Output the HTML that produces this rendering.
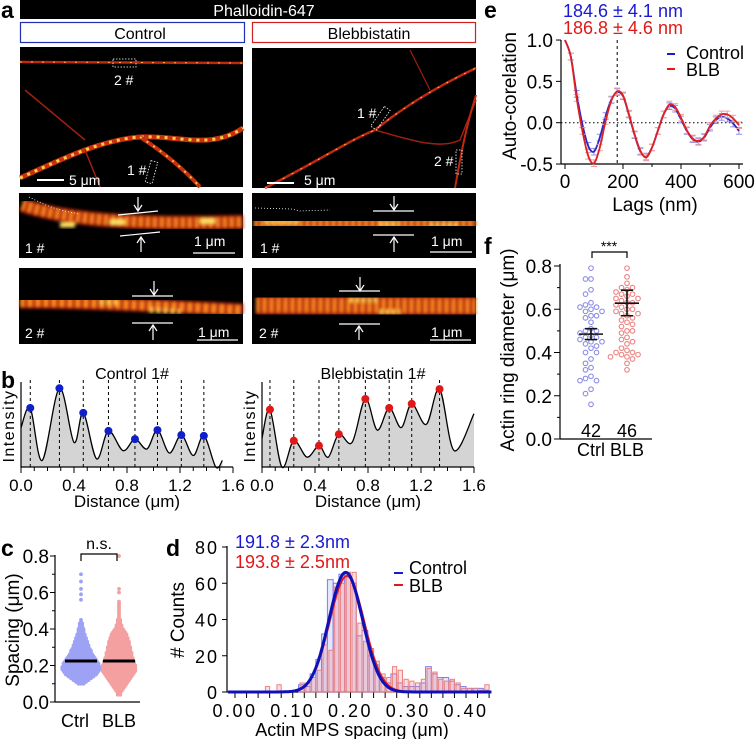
<!DOCTYPE html>
<html><head><meta charset="utf-8">
<style>
html,body{margin:0;padding:0;background:#fff;}
svg{display:block;font-family:"Liberation Sans",Arial,sans-serif;}
</style></head>
<body>
<svg id="fig" width="755" height="739" viewBox="0 0 755 739" xmlns="http://www.w3.org/2000/svg">
<defs>
  <filter id="blur2" x="-5%" y="-20%" width="110%" height="140%"><feGaussianBlur stdDeviation="1.6"/></filter>
</defs>

<g>
  <text x="1" y="18" font-size="23" font-weight="bold">a</text>
  <rect x="20" y="0" width="456" height="19" fill="#000"/>
  <text x="264" y="16" font-size="16" fill="#fff" text-anchor="middle">Phalloidin-647</text>
  <rect x="20.5" y="22.5" width="224" height="20" fill="#fff" stroke="#2030b0" stroke-width="1.2"/>
  <text x="140" y="39" font-size="16" text-anchor="middle">Control</text>
  <rect x="252.5" y="22.5" width="223" height="20" fill="#fff" stroke="#d02020" stroke-width="1.2"/>
  <text x="369" y="39" font-size="16" text-anchor="middle">Blebbistatin</text>

  <g>
    <rect x="20" y="47" width="223" height="140" fill="#000"/>
    <path d="M20 62 L243 63" stroke="#c02810" stroke-width="2.5" fill="none"/>
    <path d="M20 62 L243 63" stroke="#ffb030" stroke-width="1" stroke-dasharray="2 9" fill="none"/>
    <path d="M25 90 L85 140" stroke="#a02010" stroke-width="1.5" fill="none"/>
    <path d="M20 178 C60 160 100 140 140 137 C180 135 210 150 243 128" stroke="#c83010" stroke-width="5" fill="none"/>
    <path d="M20 178 C60 160 100 140 140 137 C180 135 210 150 243 128" stroke="#ffd040" stroke-width="3" stroke-dasharray="3 5" fill="none"/>
    <path d="M140 137 C160 150 180 165 200 187" stroke="#c83010" stroke-width="4" fill="none"/>
    <path d="M140 137 C160 150 180 165 200 187" stroke="#ffc040" stroke-width="2" stroke-dasharray="2 6" fill="none"/>
    <path d="M85 150 L100 187" stroke="#a02010" stroke-width="1.5" fill="none"/>
    <rect x="113" y="59" width="23" height="8" fill="none" stroke="#fff" stroke-dasharray="1.5 1.5" stroke-width="0.8"/>
    <text x="114" y="85" font-size="14" fill="#fff">2 #</text>
    <rect x="148" y="161" width="7" height="22" fill="none" stroke="#fff" stroke-dasharray="1.5 1.5" stroke-width="0.8" transform="rotate(15 151 172)"/>
    <text x="127" y="175" font-size="14" fill="#fff">1 #</text>
    <line x1="37" y1="180" x2="64" y2="180" stroke="#fff" stroke-width="2"/>
    <text x="69" y="185" font-size="14" fill="#fff">5 μm</text>
  </g>
  <g>
    <rect x="252" y="48" width="224" height="140" fill="#000"/>
    <path d="M265 188 C320 160 350 140 375 130 C400 110 430 90 476 68" stroke="#c02810" stroke-width="2.5" fill="none"/>
    <path d="M265 188 C320 160 350 140 375 130 C400 110 430 90 476 68" stroke="#ffb030" stroke-width="1" stroke-dasharray="2 8" fill="none"/>
    <path d="M375 130 C410 140 440 150 460 140 L476 100" stroke="#a02010" stroke-width="1.5" fill="none"/>
    <path d="M476 95 C465 130 460 160 455 188" stroke="#c02810" stroke-width="2" fill="none"/>
    <path d="M410 50 L430 90" stroke="#a02010" stroke-width="1.2" fill="none"/>
    <rect x="377" y="106" width="7" height="24" fill="none" stroke="#fff" stroke-dasharray="1.5 1.5" stroke-width="0.8" transform="rotate(35 380 118)"/>
    <text x="357" y="118" font-size="14" fill="#fff">1 #</text>
    <rect x="456" y="150" width="6" height="24" fill="none" stroke="#fff" stroke-dasharray="1.5 1.5" stroke-width="0.8"/>
    <text x="434" y="166" font-size="14" fill="#fff">2 #</text>
    <line x1="267" y1="183" x2="294" y2="183" stroke="#fff" stroke-width="2"/>
    <text x="304" y="185" font-size="14" fill="#fff">5 μm</text>
  </g>
  <g>
    <rect x="19" y="193" width="224" height="65" fill="#000"/>
    <g filter="url(#blur2)">
      <path d="M22 205 C60 218 120 225 243 222" stroke="#b82008" stroke-width="14" fill="none"/>
      <path d="M22 205 C60 218 120 225 243 222" stroke="#ff9020" stroke-width="10" stroke-dasharray="3 4" fill="none"/>
      <path d="M60 225 L75 225 M110 222 L125 222 M200 221 L215 221" stroke="#ffe060" stroke-width="5"/>
    </g>
    <path d="M29 197 C45 205 55 210 80 214" stroke="#fff" stroke-dasharray="1 2" fill="none" stroke-width="0.8"/>
    <line x1="118" y1="215" x2="158" y2="211" stroke="#fff" stroke-width="1.2"/>
    <line x1="120" y1="236" x2="160" y2="232" stroke="#fff" stroke-width="1.2"/>
    <path d="M138 197 L138 210 M134 205 L138 211 L142 205" stroke="#fff" fill="none" stroke-width="1.2"/>
    <path d="M141 252 L141 238 M137 243 L141 237 L145 243" stroke="#fff" fill="none" stroke-width="1.2"/>
    <text x="25" y="253" font-size="14" fill="#fff">1 #</text>
    <text x="194" y="246" font-size="14" fill="#fff">1 μm</text>
    <line x1="193" y1="253" x2="235" y2="253" stroke="#fff" stroke-width="1.2"/>
  </g>
  <g>
    <rect x="252" y="193" width="224" height="65" fill="#000"/>
    <g filter="url(#blur2)">
      <path d="M254 222 L476 224" stroke="#b82008" stroke-width="16" fill="none"/>
      <path d="M254 222 L476 224" stroke="#ff9020" stroke-width="11" stroke-dasharray="3 3.5" fill="none"/>
      <path d="M265 222 L300 222 M380 224 L400 224 M430 225 L460 225" stroke="#ffd050" stroke-width="5" stroke-dasharray="3 3"/>
    </g>
    <path d="M255 208 L292 209 L300 211 L330 210" stroke="#fff" stroke-dasharray="1 2" fill="none" stroke-width="0.8"/>
    <line x1="373" y1="211" x2="414" y2="211" stroke="#fff" stroke-width="1.2"/>
    <line x1="373" y1="235" x2="414" y2="235" stroke="#fff" stroke-width="1.2"/>
    <path d="M394 196 L394 209 M390 204 L394 210 L398 204" stroke="#fff" fill="none" stroke-width="1.2"/>
    <path d="M394 252 L394 238 M390 243 L394 237 L398 243" stroke="#fff" fill="none" stroke-width="1.2"/>
    <text x="260" y="253" font-size="14" fill="#fff">1 #</text>
    <text x="431" y="246" font-size="14" fill="#fff">1 μm</text>
    <line x1="430" y1="252" x2="472" y2="252" stroke="#fff" stroke-width="1.2"/>
  </g>
  <g>
    <rect x="19" y="268" width="224" height="76" fill="#000"/>
    <g filter="url(#blur2)">
      <path d="M20 302 C80 302 140 305 243 310" stroke="#b82008" stroke-width="13" fill="none"/>
      <path d="M20 302 C80 302 140 305 243 310" stroke="#ff9020" stroke-width="9" stroke-dasharray="4 4" fill="none"/>
      <path d="M150 310 L180 312 M100 302 L120 302" stroke="#ffd050" stroke-width="6" stroke-dasharray="3 4"/>
    </g>
    <line x1="132" y1="296" x2="173" y2="296" stroke="#fff" stroke-width="1.2"/>
    <line x1="132" y1="323" x2="173" y2="323" stroke="#fff" stroke-width="1.2"/>
    <path d="M154 281 L154 294 M150 289 L154 295 L158 289" stroke="#fff" fill="none" stroke-width="1.2"/>
    <path d="M153 340 L153 326 M149 331 L153 325 L157 331" stroke="#fff" fill="none" stroke-width="1.2"/>
    <text x="25" y="338" font-size="14" fill="#fff">2 #</text>
    <text x="198" y="337" font-size="14" fill="#fff">1 μm</text>
    <line x1="197" y1="340" x2="238" y2="340" stroke="#fff" stroke-width="1.2"/>
  </g>
  <g>
    <rect x="252" y="268" width="224" height="76" fill="#000"/>
    <g filter="url(#blur2)">
      <path d="M256 305 L476 306" stroke="#b82008" stroke-width="20" fill="none"/>
      <path d="M256 305 L476 306" stroke="#ff9020" stroke-width="14" stroke-dasharray="3 4" fill="none"/>
      <path d="M350 300 L380 300 M380 312 L400 312" stroke="#ffd050" stroke-width="5" stroke-dasharray="3 3"/>
    </g>
    <line x1="339" y1="291" x2="380" y2="291" stroke="#fff" stroke-width="1.2"/>
    <line x1="339" y1="324" x2="380" y2="324" stroke="#fff" stroke-width="1.2"/>
    <path d="M360 277 L360 290 M356 285 L360 291 L364 285" stroke="#fff" fill="none" stroke-width="1.2"/>
    <path d="M359 340 L359 327 M355 332 L359 326 L363 332" stroke="#fff" fill="none" stroke-width="1.2"/>
    <text x="259" y="338" font-size="14" fill="#fff">2 #</text>
    <text x="431" y="337" font-size="14" fill="#fff">1 μm</text>
    <line x1="430" y1="340" x2="471" y2="340" stroke="#fff" stroke-width="1.2"/>
  </g>
</g>

<g id="pb">
  <text x="1" y="388" font-size="23" font-weight="bold">b</text>
</g>
<g id="pc">
  <text x="1" y="556" font-size="23" font-weight="bold">c</text>
</g>
<g id="pd">
  <text x="166" y="556" font-size="23" font-weight="bold">d</text>
</g>
<g id="pe">
  <text x="484" y="18" font-size="23" font-weight="bold">e</text>
</g>
<g id="pf">
  <text x="484" y="254" font-size="23" font-weight="bold">f</text>
</g>
</svg>

<script>
// ---------- data ----------
const ctrlProfileD = [0,0.07,0.16,0.29,0.40,0.47,0.57,0.66,0.77,0.86,0.95,1.03,1.12,1.21,1.30,1.38,1.47,1.52];
const ctrlProfileI = [0.48,0.72,0.08,0.96,0.30,0.66,0.10,0.44,0.20,0.34,0.22,0.45,0.17,0.39,0.14,0.38,0.0,0.08];
const ctrlPeaks = [0.07,0.29,0.47,0.66,0.86,1.03,1.21,1.38];
const ctrlPeakI = [0.72,0.96,0.66,0.44,0.34,0.45,0.39,0.38];
const blbProfileD = [0,0.06,0.15,0.24,0.34,0.43,0.50,0.58,0.68,0.78,0.87,0.96,1.05,1.13,1.24,1.34,1.45,1.6];
const blbProfileI = [0.35,0.70,0.0,0.32,0.12,0.26,0.12,0.40,0.30,0.83,0.45,0.72,0.48,0.77,0.52,0.95,0.20,0.65];
const blbPeaks = [0.06,0.24,0.43,0.58,0.78,0.96,1.13,1.34];
const blbPeakI = [0.70,0.32,0.26,0.40,0.83,0.72,0.77,0.95];
const bTickLabels = ["0.0","0.4","0.8","1.2","1.6"];

// panel c: dot counts per 0.01 µm bin starting at cBinStart, plus outliers
const cBinStart = 0.04;
const ctrlSpacingCounts = [0,0,0,0,0,0,3,5,7,9,11,13,14,15,16,16,15,15,14,13,12,11,10,9,9,8,7,7,6,6,5,5,4,4,3,3,3,2,2,2,1,1];
const blbSpacingCounts = [2,2,3,4,5,6,7,8,9,10,11,12,13,14,14,14,14,13,13,12,12,11,11,11,10,10,10,9,9,9,8,8,7,7,6,5,4,3,3,2,2,2,1,1,1,1,1,1,1,1,1,1];
const ctrlOutliers = [0.56,0.59,0.62,0.66,0.70];
const blbOutliers = [0.60,0.62,0.80];
const cMeans = [0.225,0.225];
const cGroups = ["Ctrl","BLB"];

// panel d histogram
const dBins = [0.05,0.06,0.07,0.08,0.09,0.10,0.11,0.12,0.13,0.14,0.15,0.16,0.17,0.18,0.19,0.20,0.21,0.22,0.23,0.24,0.25,0.26,0.27,0.28,0.29,0.30,0.31,0.32,0.33,0.34,0.35,0.36,0.37,0.38,0.39,0.40,0.41,0.42,0.43];
const ctrlCounts = [0,0,0,0,0,0,4,3,10,18,32,62,60,65,66,60,31,34,20,15,8,5,10,5,3,3,3,5,14,10,8,8,6,4,3,2,2,2,1];
const blbCounts  = [3,0,4,0,0,0,5,5,8,12,26,23,58,60,66,66,38,28,24,17,10,8,14,12,7,6,5,7,13,11,7,6,7,5,2,2,2,1,4];
const fitMean = [0.1918,0.1938];
const fitSD = [0.029,0.030];
const fitAmp = [66,64];
const dYTicks = [0,20,40,60,80];
const dXTicks = ["0.00","0.10","0.20","0.30","0.40"];

// panel e
const lags = [0,20,40,60,80,100,120,140,160,180,200,220,240,260,280,300,320,340,360,380,400,420,440,460,480,500,520,540,560,580,600];
const ctrlAC = [1.0,0.80,0.35,-0.02,-0.28,-0.35,-0.18,0.08,0.28,0.37,0.32,0.10,-0.15,-0.35,-0.41,-0.30,-0.10,0.10,0.20,0.17,0.04,-0.10,-0.20,-0.23,-0.18,-0.06,0.03,0.07,0.05,-0.01,-0.10];
const blbAC  = [1.0,0.80,0.30,-0.10,-0.40,-0.49,-0.30,0.02,0.27,0.38,0.33,0.11,-0.14,-0.34,-0.42,-0.30,-0.10,0.10,0.22,0.19,0.06,-0.09,-0.19,-0.22,-0.17,-0.04,0.05,0.10,0.10,0.05,-0.03];
const eYTicks = [-0.5,0.0,0.5,1.0];
const eXTicks = [0,200,400,600];

// panel f
const ctrlRing = [0.79,0.74,0.74,0.69,0.67,0.63,0.62,0.61,0.61,0.60,0.59,0.59,0.57,0.57,0.56,0.54,0.51,0.50,0.50,0.49,0.48,0.47,0.47,0.46,0.45,0.45,0.44,0.43,0.42,0.40,0.40,0.37,0.35,0.33,0.32,0.29,0.28,0.27,0.27,0.23,0.21,0.16];
const blbRing = [0.79,0.75,0.72,0.70,0.70,0.69,0.68,0.67,0.67,0.66,0.65,0.65,0.64,0.63,0.63,0.62,0.61,0.60,0.60,0.59,0.58,0.58,0.57,0.56,0.55,0.54,0.53,0.52,0.50,0.50,0.49,0.47,0.46,0.45,0.44,0.42,0.41,0.40,0.40,0.39,0.39,0.38,0.38,0.37,0.35,0.32];
const ringMean = [0.485,0.628];
const ringErrLo = [0.460,0.570];
const ringErrHi = [0.510,0.688];
const ringN = ["42","46"];
const fYTicks = [0.0,0.2,0.4,0.6,0.8];

// ---------- helpers ----------
const NS = "http://www.w3.org/2000/svg";
function mk(parent, tag, attrs, text) {
  const e = document.createElementNS(NS, tag);
  for (const k in attrs) e.setAttribute(k, attrs[k]);
  if (text !== undefined) e.textContent = text;
  parent.appendChild(e);
  return e;
}
function smoothPath(pts) {
  let d = "M" + pts[0][0] + " " + pts[0][1];
  for (let i = 0; i < pts.length - 1; i++) {
    const p0 = pts[Math.max(0, i - 1)], p1 = pts[i], p2 = pts[i + 1], p3 = pts[Math.min(pts.length - 1, i + 2)];
    const c1x = p1[0] + (p2[0] - p0[0]) / 6, c1y = p1[1] + (p2[1] - p0[1]) / 6;
    const c2x = p2[0] - (p3[0] - p1[0]) / 6, c2y = p2[1] - (p3[1] - p1[1]) / 6;
    d += " C" + c1x + " " + c1y + " " + c2x + " " + c2y + " " + p2[0] + " " + p2[1];
  }
  return d;
}

// ---------- panel b ----------
const pb = document.getElementById("pb");
function drawProfile(x0, title, D, I, peaks, peakI, color, nm) {
  const xs = v => x0 + v * 132.5;
  const ys = v => 467 - v * 82;
  const g = mk(pb, "g", {});
  
  
  const pts = D.map((d, i) => [xs(d), ys(I[i])]);
  const line = smoothPath(pts);
  const area = mk(g, "path", { d: line + " L" + pts[pts.length - 1][0] + " 467 L" + pts[0][0] + " 467 Z", fill: "#d4d4d4" });
  
  
  peaks.forEach((p) => {
    const l = mk(g, "line", { x1: xs(p), x2: xs(p), y1: 380, y2: 467, stroke: "#000", "stroke-width": 1, "stroke-dasharray": "3 3" });
    
    
  });
  const pl = mk(g, "path", { d: line, fill: "none", stroke: "#000", "stroke-width": 1.3 });
  
  
  peaks.forEach((p, i) => {
    const c = mk(g, "circle", { cx: xs(p), cy: ys(peakI[i]), r: 4, fill: color });
    
    
  });
  mk(g, "line", { x1: x0, x2: x0, y1: 382, y2: 468, stroke: "#000", "stroke-width": 1.2 });
  mk(g, "line", { x1: x0, x2: xs(1.6), y1: 467, y2: 467, stroke: "#000", "stroke-width": 1.2 });
  for (let k = 0; k <= 16; k++) {
    mk(g, "line", { x1: xs(k / 10), x2: xs(k / 10), y1: 467, y2: k % 4 === 0 ? 473 : 471, stroke: "#000", "stroke-width": 1 });
  }
  bTickLabels.forEach((t, i) => {
    const tl = mk(g, "text", { x: xs(i * 0.4), y: 491, "font-size": 17, "text-anchor": "middle" }, t);
    
    
  });
  const xt = mk(g, "text", { x: xs(0.8), y: 507, "font-size": 17, "text-anchor": "middle" }, "Distance (μm)");
  
  
  const yt = mk(g, "text", { x: 0, y: 0, "font-size": 16, "text-anchor": "middle", transform: "translate(" + (x0 - 7) + " 426) rotate(-90)", "letter-spacing": "1.5" }, "Intensity");
  
  
  const tt = mk(g, "text", { x: xs(0.8) + 5, y: 379, "font-size": 16, "text-anchor": "middle" }, title);
  
  
}
drawProfile(21, "Control 1#", ctrlProfileD, ctrlProfileI, ctrlPeaks, ctrlPeakI, "#1020c8", "control");
drawProfile(262, "Blebbistatin 1#", blbProfileD, blbProfileI, blbPeaks, blbPeakI, "#e01818", "blebbistatin");

// ---------- panel c ----------
const pc = document.getElementById("pc");
const yC = v => 702 - v * 182.5;
mk(pc, "line", { x1: 55, x2: 55, y1: 555, y2: 702, stroke: "#000", "stroke-width": 1.2 });
mk(pc, "line", { x1: 55, x2: 140, y1: 702, y2: 702, stroke: "#000", "stroke-width": 1.2 });
[0, 0.2, 0.4, 0.6, 0.8].forEach(v => {
  mk(pc, "line", { x1: 50, x2: 55, y1: yC(v), y2: yC(v), stroke: "#000" });
  const t = mk(pc, "text", { x: 49, y: yC(v) + 7, "font-size": 19, "text-anchor": "end" }, v.toFixed(1));
  
  
});
[0.1, 0.3, 0.5, 0.7].forEach(v => mk(pc, "line", { x1: 52, x2: 55, y1: yC(v), y2: yC(v), stroke: "#000" }));
const cyt = mk(pc, "text", { x: 0, y: 0, "font-size": 19, "text-anchor": "middle", transform: "translate(19 630) rotate(-90)" }, "Spacing (μm)");


const cCenters = [81, 119];
[[ctrlSpacingCounts, ctrlOutliers], [blbSpacingCounts, blbOutliers]].forEach(([counts, outs], gi) => {
  const col = gi === 0 ? "#9ea2f4" : "#f4a0a0";
  counts.forEach((n, bi) => {
    const v = cBinStart + bi * 0.01;
    for (let k = 0; k < n; k++) {
      const off = (k - (n - 1) / 2) * 2.5;
      const c = mk(pc, "circle", { cx: cCenters[gi] + off, cy: yC(v), r: 1.9, fill: col });
      
      
    }
  });
  outs.forEach(v => {
    const c = mk(pc, "circle", { cx: cCenters[gi], cy: yC(v), r: 1.9, fill: col });
    
    
  });
  const m = mk(pc, "line", { x1: cCenters[gi] - 16, x2: cCenters[gi] + 16, y1: yC(cMeans[gi]), y2: yC(cMeans[gi]), stroke: "#000", "stroke-width": 3 });
  
  
  const lbl = mk(pc, "text", { x: cCenters[gi] - (gi === 0 ? 6 : 0), y: 727, "font-size": 18, "text-anchor": "middle" }, cGroups[gi]);
  
  
});
mk(pc, "path", { d: "M81 561 L81 554 L117 554 L117 561", fill: "none", stroke: "#000", "stroke-width": 1.2 });
const ns = mk(pc, "text", { x: 99, y: 549, "font-size": 16, "text-anchor": "middle" }, "n.s.");



// ---------- panel d ----------
const pd = document.getElementById("pd");
const xD = v => 235 + v * 577.5;
const yD = c => 692 - c * 1.8125;
mk(pd, "line", { x1: 227, x2: 227, y1: 546, y2: 692, stroke: "#000", "stroke-width": 1.2 });
mk(pd, "line", { x1: 227, x2: 489, y1: 692, y2: 692, stroke: "#000", "stroke-width": 1.2 });
dYTicks.forEach(v => {
  mk(pd, "line", { x1: 222, x2: 227, y1: yD(v), y2: yD(v), stroke: "#000" });
  const t = mk(pd, "text", { x: 219, y: yD(v) + 7, "font-size": 18, "text-anchor": "end", "letter-spacing": "2" }, String(v));
  
  
});
for (let k = 0; k <= 22; k++) mk(pd, "line", { x1: xD(k * 0.02), x2: xD(k * 0.02), y1: 692, y2: 698, stroke: "#000" });
dXTicks.forEach((t, i) => {
  const e = mk(pd, "text", { x: xD(i * 0.1), y: 717, "font-size": 18, "text-anchor": "middle", "letter-spacing": "2.5" }, t);
  
  
});
const dxt = mk(pd, "text", { x: 352, y: 736, "font-size": 18, "text-anchor": "middle" }, "Actin MPS spacing (μm)");


const dyt = mk(pd, "text", { x: 0, y: 0, "font-size": 19, "text-anchor": "middle", transform: "translate(184 620) rotate(-90)" }, "# Counts");


const bw = 0.01 * 577.5;
dBins.forEach((b, i) => {
  if (ctrlCounts[i] > 0) {
    const r = mk(pd, "rect", { x: xD(b), y: yD(ctrlCounts[i]), width: bw, height: ctrlCounts[i] * 1.8125, fill: "#7a80ee", "fill-opacity": 0.2, stroke: "#7a80ee", "stroke-width": 1 });
    
    
  }
});
dBins.forEach((b, i) => {
  if (blbCounts[i] > 0) {
    const r = mk(pd, "rect", { x: xD(b) + 1.5, y: yD(blbCounts[i]), width: bw - 1.5, height: blbCounts[i] * 1.8125, fill: "#ee7a7a", "fill-opacity": 0.25, stroke: "#ee8080", "stroke-width": 1 });
    
    
  }
});
[1, 0].forEach(gi => {
  let d = "";
  for (let v = -0.012; v <= 0.445; v += 0.002) {
    const c = fitAmp[gi] * Math.exp(-Math.pow(v - fitMean[gi], 2) / (2 * fitSD[gi] * fitSD[gi]));
    d += (d ? " L" : "M") + xD(v).toFixed(1) + " " + yD(c).toFixed(1);
  }
  const p = mk(pd, "path", { d: d, fill: "none", stroke: gi === 0 ? "#1010b8" : "#e02020", "stroke-width": gi === 0 ? 3 : 2 });
  
  
});
const dt1 = mk(pd, "text", { x: 235, y: 548, "font-size": 18, fill: "#1a1ad0" }, "191.8 ± 2.3nm");


const dt2 = mk(pd, "text", { x: 235, y: 568, "font-size": 18, fill: "#e01818" }, "193.8 ± 2.5nm");


mk(pd, "line", { x1: 394, x2: 403, y1: 573, y2: 573, stroke: "#1a1ad0", "stroke-width": 2 });
const dl1 = mk(pd, "text", { x: 409, y: 574, "font-size": 18 }, "Control");


mk(pd, "line", { x1: 394, x2: 403, y1: 585, y2: 585, stroke: "#e01818", "stroke-width": 2 });
const dl2 = mk(pd, "text", { x: 409, y: 592, "font-size": 18 }, "BLB");



// ---------- panel e ----------
const pe = document.getElementById("pe");
const xE = v => 565 + v * 0.29;
const yE = v => 122.7 - v * 82.67;
mk(pe, "line", { x1: 561, x2: 561, y1: 40, y2: 164, stroke: "#000", "stroke-width": 1.2 });
mk(pe, "line", { x1: 561, x2: 743, y1: 164, y2: 164, stroke: "#000", "stroke-width": 1.2 });
mk(pe, "line", { x1: 561, x2: 743, y1: yE(0), y2: yE(0), stroke: "#000", "stroke-dasharray": "1.5 2.5" });
mk(pe, "line", { x1: xE(180), x2: xE(180), y1: 40, y2: 164, stroke: "#000", "stroke-dasharray": "3 3" });
eYTicks.forEach(v => {
  mk(pe, "line", { x1: 556, x2: 561, y1: yE(v), y2: yE(v), stroke: "#000" });
  const t = mk(pe, "text", { x: 553, y: yE(v) + 7, "font-size": 19, "text-anchor": "end" }, v.toFixed(1));
  
  
});
eXTicks.forEach(v => {
  mk(pe, "line", { x1: xE(v), x2: xE(v), y1: 164, y2: 169, stroke: "#000" });
  const t = mk(pe, "text", { x: xE(v), y: 188, "font-size": 19, "text-anchor": "middle" }, String(v));
  
  
});
[100, 300, 500].forEach(v => mk(pe, "line", { x1: xE(v), x2: xE(v), y1: 164, y2: 167, stroke: "#000" }));
const ext = mk(pe, "text", { x: 655, y: 211, "font-size": 19, "text-anchor": "middle" }, "Lags (nm)");


const eyt = mk(pe, "text", { x: 0, y: 0, "font-size": 19, "text-anchor": "middle", transform: "translate(516 96) rotate(-90)" }, "Auto-corelation");


[[ctrlAC, "#2828c8", "#9090e8", "control"], [blbAC, "#e02020", "#f0a0a0", "blb"]].forEach(([arr, col, light, nm]) => {
  arr.forEach((v, i) => {
    if (i === 0) return;
    const eb = mk(pe, "path", { d: "M" + (xE(lags[i]) - 3) + " " + yE(v + 0.04) + " h6 M" + xE(lags[i]) + " " + yE(v + 0.04) + " V" + yE(v - 0.04) + " M" + (xE(lags[i]) - 3) + " " + yE(v - 0.04) + " h6", stroke: light, fill: "none", "stroke-width": 1 });
    
    
  });
  const p = mk(pe, "path", { d: smoothPath(lags.map((l, i) => [xE(l), yE(arr[i])])), fill: "none", stroke: col, "stroke-width": 1.8 });
  
  
});
const et1 = mk(pe, "text", { x: 563, y: 17, "font-size": 18, fill: "#1a1ad0" }, "184.6 ± 4.1 nm");


const et2 = mk(pe, "text", { x: 563, y: 34, "font-size": 18, fill: "#e01818" }, "186.8 ± 4.6 nm");


mk(pe, "line", { x1: 667, x2: 675, y1: 54, y2: 54, stroke: "#1a1ad0", "stroke-width": 2 });
const el1 = mk(pe, "text", { x: 686, y: 59, "font-size": 18 }, "Control");


mk(pe, "line", { x1: 667, x2: 675, y1: 69, y2: 69, stroke: "#e01818", "stroke-width": 2 });
const el2 = mk(pe, "text", { x: 686, y: 76, "font-size": 18 }, "BLB");



// ---------- panel f ----------
const pf = document.getElementById("pf");
const yF = v => 439 - v * 216.25;
mk(pf, "line", { x1: 560, x2: 560, y1: 264, y2: 439, stroke: "#000", "stroke-width": 1.2 });
mk(pf, "line", { x1: 560, x2: 652, y1: 439, y2: 439, stroke: "#000", "stroke-width": 1.2 });
fYTicks.forEach(v => {
  mk(pf, "line", { x1: 554, x2: 560, y1: yF(v), y2: yF(v), stroke: "#000" });
  const t = mk(pf, "text", { x: 552, y: yF(v) + 7, "font-size": 19, "text-anchor": "end" }, v.toFixed(1));
  
  
});
[0.1, 0.3, 0.5, 0.7].forEach(v => mk(pf, "line", { x1: 557, x2: 560, y1: yF(v), y2: yF(v), stroke: "#000" }));
const fyt = mk(pf, "text", { x: 0, y: 0, "font-size": 19, "text-anchor": "middle", transform: "translate(514 350) rotate(-90)" }, "Actin ring diameter (μm)");


const fCenters = [591, 627];
[[ctrlRing, "#8c8ce6", "control"], [blbRing, "#ec8282", "blb"]].forEach(([arr, col, nm], gi) => {
  const placed = [];
  arr.forEach(v => {
    const y = yF(v);
    const offs = [0, -5.5, 5.5, -11, 11, -16.5, 16.5, -22, 22];
    let x = fCenters[gi];
    for (const o of offs) {
      const cx = fCenters[gi] + o;
      if (!placed.some(p => Math.hypot(p[0] - cx, p[1] - y) < 5)) { x = cx; break; }
    }
    placed.push([x, y]);
    const c = mk(pf, "circle", { cx: x, cy: y, r: 2.3, fill: "none", stroke: col, "stroke-width": 1.1 });
    
    
  });
  const cx = fCenters[gi];
  const mb = mk(pf, "path", { d: "M" + (cx - 12) + " " + yF(ringMean[gi]) + " h24 M" + (cx - 6) + " " + yF(ringErrHi[gi]) + " h12 M" + cx + " " + yF(ringErrHi[gi]) + " V" + yF(ringErrLo[gi]) + " M" + (cx - 6) + " " + yF(ringErrLo[gi]) + " h12", stroke: "#111", fill: "none", "stroke-width": 1.6 });
  
  
  const n = mk(pf, "text", { x: cx, y: 437, "font-size": 18, "text-anchor": "middle" }, ringN[gi]);
  
  
  const l = mk(pf, "text", { x: cx, y: 456, "font-size": 18, "text-anchor": "middle" }, cGroups[gi]);
  
  
});
mk(pf, "path", { d: "M592 258 L592 252 L627 252 L627 258", fill: "none", stroke: "#000", "stroke-width": 1.2 });
const st = mk(pf, "text", { x: 609, y: 251, "font-size": 14, "text-anchor": "middle" }, "***");


</script>
</body></html>
